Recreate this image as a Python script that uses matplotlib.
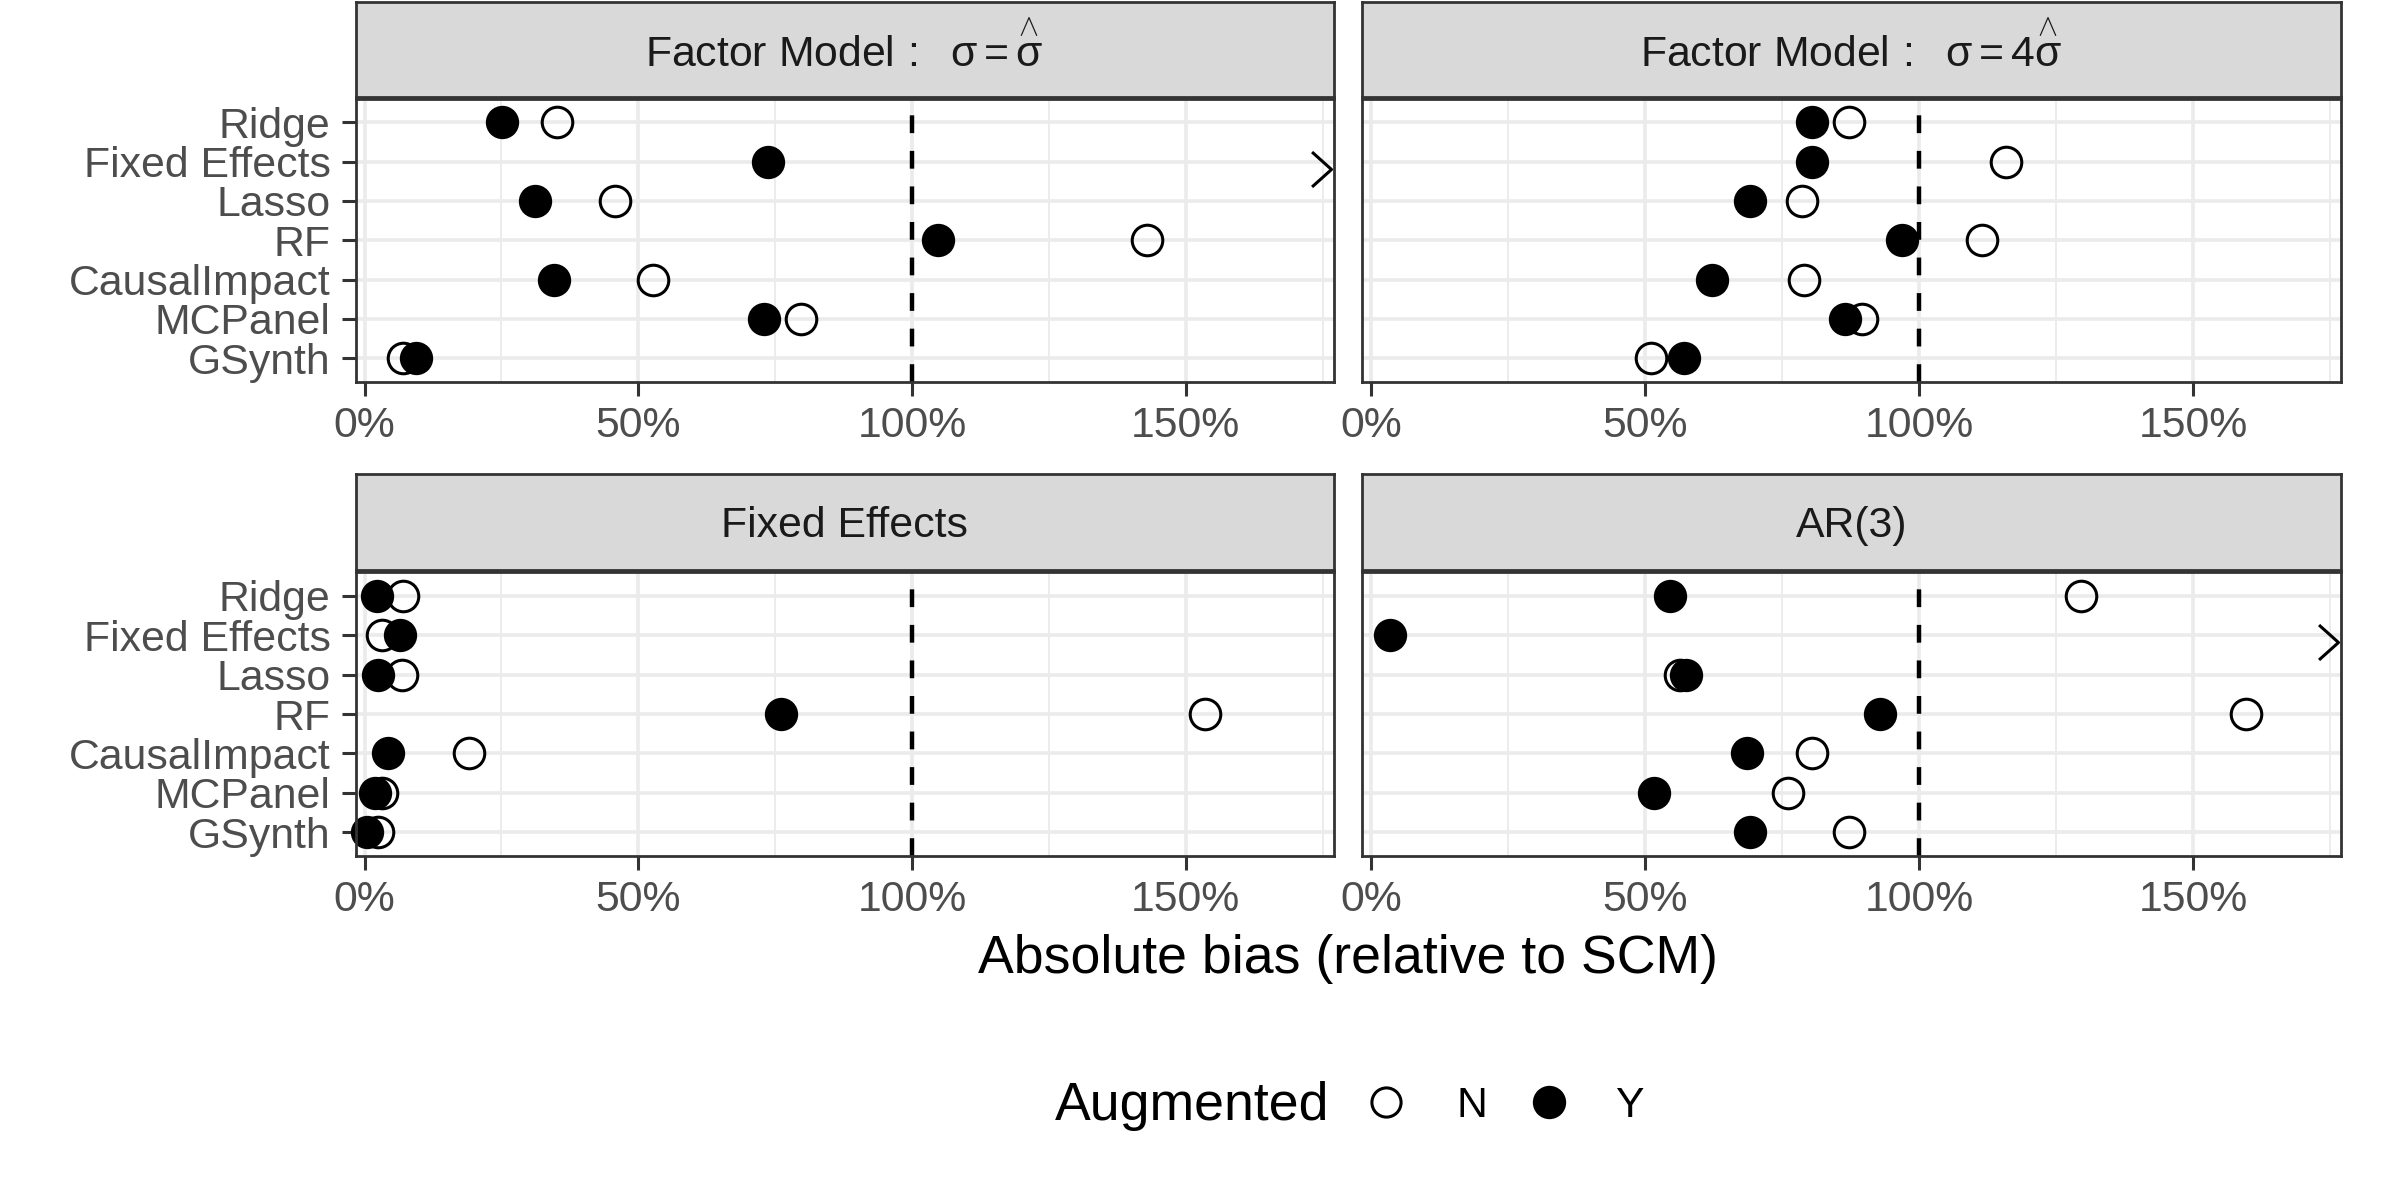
import numpy as np
import matplotlib
matplotlib.use("Agg")
import matplotlib.pyplot as plt
from matplotlib.lines import Line2D
from matplotlib.path import Path
from matplotlib.transforms import ScaledTranslation

plt.rcParams['font.family'] = ['Liberation Sans', 'DejaVu Sans']
plt.rcParams['mathtext.fontset'] = 'custom'
plt.rcParams['mathtext.rm'] = 'Liberation Sans'
plt.rcParams['mathtext.it'] = 'Liberation Sans'
plt.rcParams['mathtext.bf'] = 'Liberation Sans:bold'

# ---------------- data ----------------
methods = ["Ridge", "Fixed Effects", "Lasso", "RF", "CausalImpact", "MCPanel", "GSynth"]
panel_titles = [r"Factor Model$\,:\ \ \sigma = \overset{\wedge}{\sigma}$",
                r"Factor Model$\,:\ \ \sigma = 4\overset{\wedge}{\sigma}$",
                "Fixed Effects",
                "AR(3)"]
# Absolute bias relative to SCM (N = not augmented, Y = augmented); values > 175% are off scale
fm1_N = [0.351, 2.00, 0.458, 1.429, 0.526, 0.798, 0.070]
fm1_Y = [0.251, 0.736, 0.312, 1.048, 0.346, 0.729, 0.094]
fm4_N = [0.872, 1.159, 0.787, 1.115, 0.790, 0.895, 0.511]
fm4_Y = [0.804, 0.805, 0.691, 0.968, 0.622, 0.865, 0.571]
fe_N = [0.070, 0.031, 0.068, 1.535, 0.190, 0.031, 0.025]
fe_Y = [0.023, 0.064, 0.024, 0.760, 0.043, 0.019, 0.005]
ar3_N = [1.295, 2.00, 0.563, 1.596, 0.804, 0.761, 0.873]
ar3_Y = [0.546, 0.034, 0.575, 0.929, 0.686, 0.517, 0.691]

x_ticks = [0.0, 0.5, 1.0, 1.5]
x_tick_labels = ["0%", "50%", "100%", "150%"]
x_minor = [0.25, 0.75, 1.25, 1.75]
x_limits = (-0.0165, 1.770)
reference_line = 1.0
legend_title = "Augmented"
legend_labels = ["N", "Y"]
x_title = "Absolute bias (relative to SCM)"

panel_N = [fm1_N, fm4_N, fe_N, ar3_N]
panel_Y = [fm1_Y, fm4_Y, fe_Y, ar3_Y]

# ---------------- layout ----------------
W, H, DPI = 2400, 1200, 200
fig = plt.figure(figsize=(W / DPI, H / DPI), dpi=DPI)
fig.patch.set_facecolor("white")

def px_rect(L, R, T, B):
    return [L / W, 1 - B / H, (R - L) / W, (B - T) / H]

cols = [(355.6, 1333.5), (1362.0, 2341.0)]
rows = [(98.7, 381.9, 2.0), (572.0, 856.0, 474.0)]
strip_base = [0.317, 0.347]

GRID = "#EBEBEB"
BORDER = "#333333"
TICKTXT = "#4D4D4D"
SMALL = 15.4
LARGE = 19.3

chevron = Path([(-0.557, 0.5), (0.0, 0.0), (-0.557, -0.5)],
               [Path.MOVETO, Path.LINETO, Path.LINETO])
chev_off = ScaledTranslation(-3 / DPI, -7 / DPI, fig.dpi_scale_trans)

ypos = np.arange(len(methods))

for i in range(4):
    r, c = divmod(i, 2)
    L, R = cols[c]
    T, B, ST = rows[r]
    ax = fig.add_axes(px_rect(L, R, T, B))
    ax.set_xlim(*x_limits)
    ax.set_ylim(len(methods) - 1 + 0.6, -0.6)
    ax.set_axisbelow(True)

    ax.set_xticks(x_ticks)
    ax.set_xticklabels(x_tick_labels)
    ax.set_xticks(x_minor, minor=True)
    ax.set_yticks(ypos)
    if c == 0:
        ax.set_yticklabels(methods)
        ax.tick_params(axis="y", length=5, width=1.1, color=BORDER, pad=4,
                       labelsize=SMALL, labelcolor=TICKTXT)
    else:
        ax.set_yticklabels([])
        ax.tick_params(axis="y", length=0)
    ax.tick_params(axis="x", which="major", length=5, width=1.1, color=BORDER,
                   pad=3.5, labelsize=SMALL, labelcolor=TICKTXT)
    ax.tick_params(axis="x", which="minor", length=0)
    ax.grid(which="major", color=GRID, lw=1.3)
    ax.grid(which="minor", axis="x", color=GRID, lw=0.65)
    for s in ax.spines.values():
        s.set_color(BORDER)
        s.set_linewidth(1.0)
        s.set_zorder(5)

    ax.axvline(reference_line, color="black", lw=1.6, linestyle=(0, (4, 4)), zorder=2)

    xmax = x_limits[1]
    for vals, filled in ((panel_N[i], False), (panel_Y[i], True)):
        v = np.asarray(vals)
        inside = v <= xmax
        if filled:
            ax.plot(v[inside], ypos[inside], linestyle="none", marker="o",
                    markersize=12, markerfacecolor="black", markeredgewidth=0,
                    zorder=4, clip_on=False)
        else:
            ax.plot(v[inside], ypos[inside], linestyle="none", marker="o",
                    markersize=11, markerfacecolor="none", markeredgecolor="black",
                    markeredgewidth=1.1, zorder=3, clip_on=False)
        out = ~inside
        if out.any():
            ax.plot(np.full(out.sum(), xmax), ypos[out], linestyle="none",
                    marker=chevron, markersize=14, markerfacecolor="none",
                    markeredgecolor="black", markeredgewidth=1.1,
                    transform=ax.transData + chev_off, clip_on=False, zorder=6)

    # strip
    sax = fig.add_axes(px_rect(L, R, ST, T - 2))
    sax.set_facecolor("#D9D9D9")
    sax.set_xticks([])
    sax.set_yticks([])
    for s in sax.spines.values():
        s.set_color(BORDER)
        s.set_linewidth(1.0)
    sax.text(0.5, strip_base[r], panel_titles[i], transform=sax.transAxes,
             ha="center", va="baseline", fontsize=SMALL, color="#1A1A1A")

# axis title
fig.text(1348 / W, 1 - 973 / H, x_title, ha="center", va="baseline",
         fontsize=LARGE, color="black")

# legend
fig.text(1055 / W, 1 - 1120 / H, legend_title, ha="left", va="baseline",
         fontsize=LARGE, color="black")
leg_y = 1 - 1102 / H
fig.add_artist(Line2D([1385.6 / W], [leg_y], transform=fig.transFigure,
                      linestyle="none", marker="o", markersize=10.5,
                      markerfacecolor="none", markeredgecolor="black",
                      markeredgewidth=1.1))
fig.add_artist(Line2D([1549 / W], [leg_y], transform=fig.transFigure,
                      linestyle="none", marker="o", markersize=12,
                      markerfacecolor="black", markeredgewidth=0))
fig.text(1457 / W, 1 - 1117 / H, legend_labels[0], ha="left", va="baseline",
         fontsize=SMALL, color="black")
fig.text(1615 / W, 1 - 1117 / H, legend_labels[1], ha="left", va="baseline",
         fontsize=SMALL, color="black")

fig.savefig("out.png", dpi=DPI, facecolor="white")
